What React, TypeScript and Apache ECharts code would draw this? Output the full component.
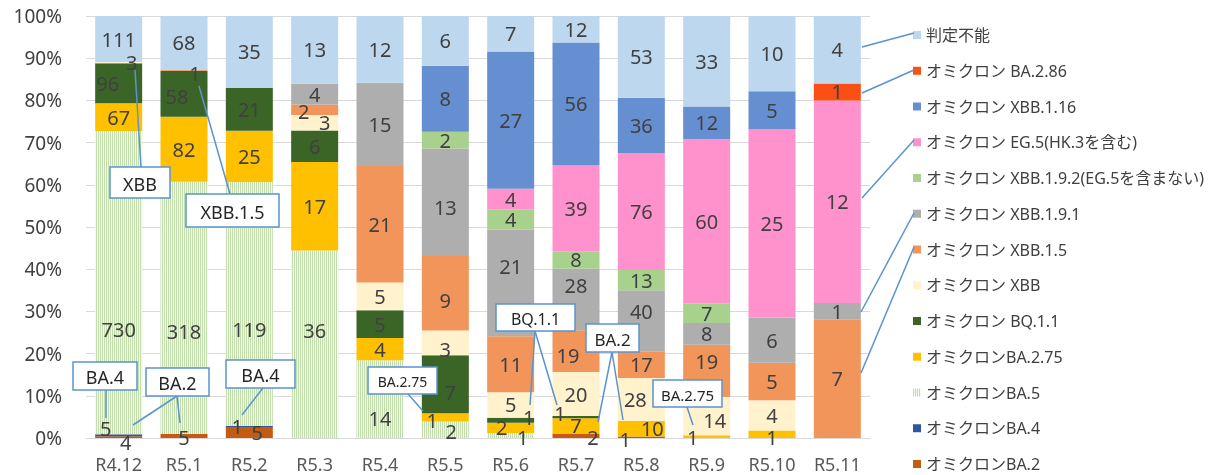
import React, { useEffect, useRef } from 'react';
import * as echarts from 'echarts';

const categories = ['R4.12', 'R5.1', 'R5.2', 'R5.3', 'R5.4', 'R5.5', 'R5.6', 'R5.7', 'R5.8', 'R5.9', 'R5.10', 'R5.11'];

// counts per category (stack order bottom -> top)
const ba2 = [4, 5, 5, 0, 0, 0, 0, 2, 1, 0, 0, 0];
const ba4 = [5, 0, 1, 0, 0, 0, 0, 0, 0, 0, 0, 0];
const ba5 = [730, 318, 119, 36, 14, 2, 1, 0, 0, 0, 0, 0];
const ba275 = [67, 82, 25, 17, 4, 1, 2, 7, 10, 1, 1, 0];
const bq11 = [96, 58, 21, 6, 5, 7, 1, 1, 0, 0, 0, 0];
const xbb = [3, 0, 0, 3, 5, 3, 5, 20, 28, 14, 4, 0];
const xbb15 = [0, 1, 0, 2, 21, 9, 11, 19, 17, 19, 5, 7];
const xbb191 = [0, 0, 0, 4, 15, 13, 21, 28, 40, 8, 6, 1];
const xbb192 = [0, 0, 0, 0, 0, 2, 4, 8, 13, 7, 0, 0];
const eg5 = [0, 0, 0, 0, 0, 0, 4, 39, 76, 60, 25, 12];
const xbb116 = [0, 0, 0, 0, 0, 8, 27, 56, 36, 12, 5, 0];
const ba286 = [0, 0, 0, 0, 0, 0, 0, 0, 0, 0, 0, 1];
const undetermined = [111, 68, 35, 13, 12, 6, 7, 12, 53, 33, 10, 4];

const seriesNames = [
  'オミクロンBA.2',
  'オミクロンBA.4',
  'オミクロンBA.5',
  'オミクロンBA.2.75',
  'オミクロン BQ.1.1',
  'オミクロン XBB',
  'オミクロン XBB.1.5',
  'オミクロン XBB.1.9.1',
  'オミクロン XBB.1.9.2(EG.5を含まない)',
  'オミクロン EG.5(HK.3を含む)',
  'オミクロン XBB.1.16',
  'オミクロン BA.2.86',
  '判定不能',
];
const seriesCounts = [ba2, ba4, ba5, ba275, bq11, xbb, xbb15, xbb191, xbb192, eg5, xbb116, ba286, undetermined];
const seriesColors = [
  '#c55a11', '#2f55a4', '#f4f9ef', '#ffc000', '#3b6526', '#fff2cc', '#f2955a',
  '#aeaeae', '#a9d18e', '#ff92cc', '#668fd1', '#fc4f16', '#bdd7ee',
];

const yTickValues = [0, 10, 20, 30, 40, 50, 60, 70, 80, 90, 100];

// label nudges: [seriesIndex, categoryIndex, dx, dy]
const labelNudges: [number, number, number, number][] = [
  [0, 0, 7, 5], [1, 0, -13, -7], [2, 0, 0, 47], [4, 0, -11, 0], [5, 0, 13, 0],
  [0, 1, 0, 1], [2, 1, 0, 24], [4, 1, -7, 3], [6, 1, 11, 3],
  [0, 2, 8, 0], [1, 2, -12, 0], [2, 2, 0, 26],
  [2, 3, 0, -14], [5, 3, 10, 0], [6, 3, -11, 2],
  [2, 4, 0, 19],
  [2, 5, 6, 2], [3, 5, -13, 3], [4, 5, 5, 8], [5, 5, 0, 7], [6, 5, 0, 7], [7, 5, 0, 5],
  [2, 6, 12, 2], [3, 6, -9, 0], [4, 6, 18, -3], [7, 6, 0, -16],
  [0, 7, 17, 2], [4, 7, -16, -4], [6, 7, -8, 4], [7, 7, 0, -14],
  [0, 8, -16, 2], [3, 8, 11, 0], [5, 8, -6, 0], [7, 8, 0, -9],
  [3, 9, -14, 1], [5, 9, 8, 4], [6, 9, 0, -9],
  [3, 10, 0, 3],
];

// annotation callouts
const callouts = [
  { text: 'XBB', box: [110, 167, 60, 31], size: 18, lines: [[141, 167, 135, 70]] },
  { text: 'XBB.1.5', box: [186, 194, 93, 33], size: 18, lines: [[230, 194, 199, 86]] },
  { text: 'BA.4', box: [73, 362, 64, 28], size: 18, lines: [[106, 390, 106, 418]] },
  { text: 'BA.2', box: [146, 368, 63, 28], size: 18, lines: [[177, 396, 133, 425], [177, 396, 180, 423]] },
  { text: 'BA.4', box: [226, 360, 69, 28], size: 18, lines: [[263, 388, 242, 415]] },
  { text: 'BA.2.75', box: [368, 367, 69, 27], size: 14, lines: [[408, 394, 423, 411]] },
  { text: 'BQ.1.1', box: [496, 304, 79, 27], size: 16, lines: [[535, 331, 530, 405], [535, 331, 557, 405]] },
  { text: 'BA.2', box: [586, 324, 53, 28], size: 17, lines: [[612, 352, 598, 422], [612, 352, 623, 420]] },
  { text: 'BA.2.75', box: [653, 380, 69, 27], size: 15, lines: [[687, 407, 693, 425]] },
];
const legendLeaders = [
  [862, 47, 914, 33],
  [862, 93, 914, 70],
  [862, 198, 914, 140],
  [861, 312, 914, 213],
  [861, 373, 914, 247],
];

const FONT = '"Noto Sans", "Noto Sans CJK JP", sans-serif';
const LINE_COLOR = '#5b93cf';

export default function App() {
  const ref = useRef<HTMLDivElement>(null);
  useEffect(() => {
    if (!ref.current) return;
    const chart = echarts.init(ref.current, undefined, { renderer: 'svg' });
    const totals = categories.map((_, i) => seriesCounts.reduce((s, arr) => s + arr[i], 0));
    const nudgeOf = (si: number, ci: number) => {
      const n = labelNudges.find((x) => x[0] === si && x[1] === ci);
      return n ? [n[2], n[3]] : [0, 0];
    };
    const series = seriesNames.map((name, si) => ({
      name,
      type: 'bar',
      stack: 'total',
      barWidth: 47,
      itemStyle:
        si === 2
          ? {
              color: seriesColors[si],
              decal: {
                symbol: 'rect',
                symbolSize: 1,
                dashArrayX: [1, 1],
                dashArrayY: [4, 0],
                rotation: 0,
                color: '#c3ddaf',
              },
            }
          : { color: seriesColors[si] },
      label: {
        show: true,
        position: 'inside',
        color: '#404040',
        fontSize: 20,
        fontFamily: FONT,
        textBorderWidth: 0,
        formatter: (p: any) => (p.data && p.data.count ? String(p.data.count) : ''),
      },
      emphasis: { disabled: true },
      data: seriesCounts[si].map((c, ci) => ({
        value: (c / totals[ci]) * 100,
        count: c,
        label: { offset: nudgeOf(si, ci) },
      })),
    }));

    const graphics: any[] = [];
    callouts.forEach((c) => {
      c.lines.forEach((l) =>
        graphics.push({
          type: 'line',
          z: 100,
          shape: { x1: l[0], y1: l[1], x2: l[2], y2: l[3] },
          style: { stroke: LINE_COLOR, lineWidth: 1.5 },
        })
      );
      graphics.push({
        type: 'rect',
        z: 101,
        shape: { x: c.box[0], y: c.box[1], width: c.box[2], height: c.box[3] },
        style: { fill: '#ffffff', stroke: LINE_COLOR, lineWidth: 1.5 },
      });
      graphics.push({
        type: 'text',
        z: 102,
        x: c.box[0] + c.box[2] / 2,
        y: c.box[1] + c.box[3] / 2 + 1,
        style: {
          text: c.text,
          fontSize: c.size,
          fontFamily: FONT,
          fill: '#262626',
          align: 'center',
          verticalAlign: 'middle',
        },
      });
    });
    legendLeaders.forEach((l) =>
      graphics.push({
        type: 'line',
        z: 100,
        shape: { x1: l[0], y1: l[1], x2: l[2], y2: l[3] },
        style: { stroke: LINE_COLOR, lineWidth: 1.5 },
      })
    );

    chart.setOption({
      animation: false,
      grid: { left: 86, top: 16, width: 784, height: 422 },
      xAxis: {
        type: 'category',
        data: categories,
        axisLine: { lineStyle: { color: '#d9d9d9', width: 1 } },
        axisTick: { show: false },
        axisLabel: { color: '#595959', fontSize: 18, fontFamily: FONT, margin: 17 },
      },
      yAxis: {
        type: 'value',
        min: yTickValues[0],
        max: yTickValues[yTickValues.length - 1],
        interval: 10,
        axisLine: { show: false },
        axisTick: { show: false },
        axisLabel: { color: '#404040', fontSize: 19, fontFamily: FONT, margin: 24, formatter: '{value}%' },
        splitLine: { lineStyle: { color: '#d9d9d9', width: 1 } },
      },
      legend: {
        orient: 'vertical',
        left: 913,
        top: 27,
        height: 470,
        padding: 0,
        itemWidth: 8,
        itemHeight: 8,
        itemGap: 19.75,
        icon: 'rect',
        selectedMode: false,
        textStyle: { fontSize: 16, color: '#404040', fontFamily: FONT, lineHeight: 16 },
        data: [...seriesNames].reverse(),
      },
      graphic: graphics,
      series,
    });
    return () => chart.dispose();
  }, []);
  return <div ref={ref} style={{ position: 'fixed', left: 0, top: 0, width: 1223, height: 475 }} />;
}
